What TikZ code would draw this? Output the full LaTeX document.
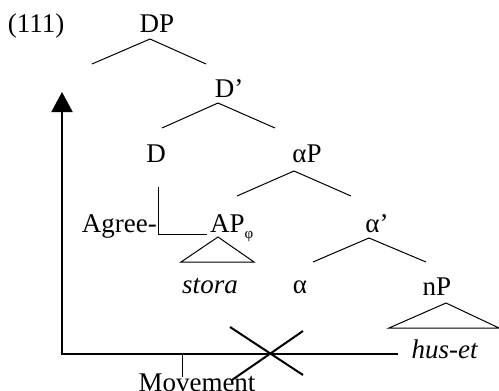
\documentclass[tikz,border=0pt]{standalone}
\usepackage{fontspec}
\setmainfont{Liberation Serif}
\usetikzlibrary{arrows.meta}

\begin{document}
\begin{tikzpicture}[x=1pt, y=-1pt, >={Triangle[length=20pt,width=21pt]},
    lbl/.style={anchor=base, inner sep=0pt, font=\fontsize{27}{31}\selectfont},
    branch/.style={line width=1pt},
    move/.style={line width=2pt}]
    \useasboundingbox (0,0) rectangle (499,391);

    % Labels
    \node[lbl] (ex) at (36,32) {(111)};
    \node[lbl] (dp) at (157,32) {DP};
    \node[lbl] (dbar) at (229,97) {D’};
    \node[lbl] (d) at (156,162) {D};
    \node[lbl] (alphap) at (307,162) {αP};
    \node[lbl, anchor=base west] (ap) at (210,232) {AP\raisebox{-6pt}{\fontsize{15}{17}\selectfont φ}};
    \node[lbl, anchor=base east] (agree) at (157,232) {Agree-};
    \node[lbl] (alphabar) at (377,232) {α’};
    \node[lbl] (stora) at (210,293) {\textit{stora}};
    \node[lbl] (alpha) at (300,293) {α};
    \node[lbl] (np) at (437,295) {nP};
    \node[lbl] (huset) at (445,358) {\textit{hus-et}};
    \node[lbl] (movement) at (197,391) {Movement};

    % Branches
    \draw[branch] (92,64) -- (150,39) -- (206,64);
    \draw[branch] (162,128) -- (218,103) -- (275,128);
    \draw[branch] (237,196) -- (294,171) -- (351,196);
    \draw[branch] (313,262) -- (369,238) -- (426,262);

    % Triangles
    \draw[branch] (218,237) -- (181,262) -- (254,262) -- cycle;
    \draw[branch] (446,303) -- (389,328) -- (499,328) -- cycle;

    % Agree
    \coordinate (agtop) at (158,187);
    \coordinate (agcorner) at (158,234);
    \coordinate (agend) at (207,234);
    \draw[branch] (agtop) -- (agcorner) -- (agend);

    % Movement
    \coordinate (mvend) at (398,354);
    \coordinate (mvcorner) at (62,354);
    \coordinate (mvtip) at (62,92);
    \draw[move,->] (mvend) -- (mvcorner) -- (mvtip);
    \coordinate (tick) at (182,354);
    \draw[branch] (tick) -- (182,377);

    % Blocked
    \draw[move] (230,327) -- (303,375);
    \draw[move] (303,331) -- (232,380);
\end{tikzpicture}
\end{document}
